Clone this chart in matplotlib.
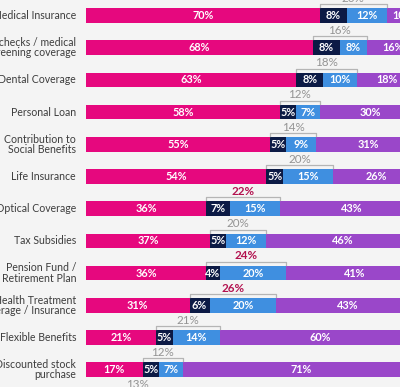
import matplotlib
matplotlib.use("Agg")
import matplotlib.pyplot as plt

# ── Data ──────────────────────────────────────────────────────────────────────
categories = [
    "Medical Insurance",
    "Health checks / medical\nscreening coverage",
    "Dental Coverage",
    "Personal Loan",
    "Contribution to\nSocial Benefits",
    "Life Insurance",
    "Optical Coverage",
    "Tax Subsidies",
    "Pension Fund /\nRetirement Plan",
    "Health Treatment\nCoverage / Insurance",
    "Flexible Benefits",
    "Discounted stock\npurchase",
    "Other",
]
seg_pink   = [70, 68, 63, 58, 55, 54, 36, 37, 36, 31, 21, 17, 9]
seg_navy   = [8, 8, 8, 5, 5, 5, 7, 5, 4, 6, 5, 5, 5]
seg_blue   = [12, 8, 10, 7, 9, 15, 15, 12, 20, 20, 14, 7, 8]
seg_purple = [10, 16, 18, 30, 31, 26, 43, 46, 41, 43, 60, 71, 78]
bracket    = [20, 16, 18, 12, 14, 20, 22, 20, 24, 26, 21, 12, 13]
highlight  = [False, False, False, False, False, False, True, False, True, True, False, False, False]

# ── Style ─────────────────────────────────────────────────────────────────────
BG       = "#f4f4f4"
COLORS   = ["#e6087e", "#0c1a45", "#3f8fe0", "#9a47c9"]
GRAY     = "#939393"
CRIMSON  = "#b3124f"
FONT     = "Lato"

W, H, DPI = 400, 387, 100
X0_PX, PX_PER_PCT = 86, 3.34
ROW0_PX, ROW_STEP = 15.5, 32.2
BAR_H = 14.5 / ROW_STEP

fig = plt.figure(figsize=(W / DPI, H / DPI), dpi=DPI)
fig.patch.set_facecolor(BG)

# axes spans 0..100% of bar width, extends past the right edge (cropped view)
ax = fig.add_axes([X0_PX / W, 0, 100 * PX_PER_PCT / W, 1])
ax.set_facecolor(BG)
ax.set_xlim(0, 100)
ax.set_ylim((H - ROW0_PX) / ROW_STEP, -ROW0_PX / ROW_STEP)
ax.axis("off")

segments = [seg_pink, seg_navy, seg_blue, seg_purple]
for i, cat in enumerate(categories):
    left = 0
    for vals, col in zip(segments, COLORS):
        v = vals[i]
        ax.barh(i, v, left=left, height=BAR_H, color=col, linewidth=0)
        ax.text(left + v / 2, i, f"{v}%", ha="center", va="center",
                color="white", fontsize=7.8, fontweight="bold", family=FONT)
        left += v

    # category label
    ax.text(-10 / PX_PER_PCT, i, cat, ha="right", va="center",
            color="#3d3d3d", fontsize=7.6, family=FONT, linespacing=0.95,
            clip_on=False)

    # bracket over navy + blue
    b0 = seg_pink[i]
    b1 = b0 + seg_navy[i] + seg_blue[i]
    y_line = i - BAR_H / 2 - 4 / ROW_STEP
    y_tick = i - BAR_H / 2 - 1 / ROW_STEP
    ax.plot([b0, b0, b1, b1], [y_tick, y_line, y_line, y_tick],
            color="#b5b5b5", linewidth=0.9, clip_on=False)
    ax.text((b0 + b1) / 2, y_line - 0.5 / ROW_STEP, f"{bracket[i]}%",
            ha="center", va="bottom",
            color=CRIMSON if highlight[i] else GRAY,
            fontweight="bold" if highlight[i] else "normal",
            fontsize=8.4, family=FONT)

fig.savefig("out.png", dpi=DPI, facecolor=BG)
